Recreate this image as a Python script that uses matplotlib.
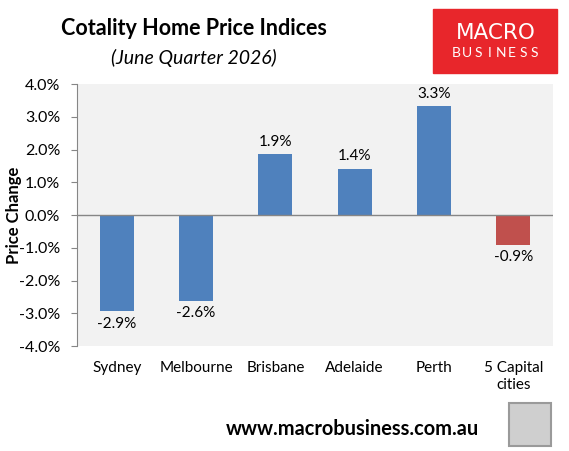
import numpy as np
import matplotlib.pyplot as plt
from matplotlib.patches import Rectangle

plt.rcParams['font.family'] = ['Lato', 'DejaVu Sans']

cities = ['Sydney', 'Melbourne', 'Brisbane', 'Adelaide', 'Perth', '5 Capital\ncities']
changes = [-2.93, -2.62, 1.86, 1.42, 3.32, -0.91]
colours = ['#4f81bd'] * 5 + ['#c0504d']
yticks = np.arange(-4, 5, 1)

fig = plt.figure(figsize=(5.69, 4.51), dpi=100)
ax = fig.add_axes([0.1353, 0.2328, 0.8367, 0.5809])
ax.set_facecolor('#f2f2f2')

x = np.arange(len(cities))
ax.bar(x, changes, width=0.43, color=colours, zorder=2)
ax.axhline(0, color='#868686', lw=1, zorder=3)

# value labels above/below bars
for xi, v in zip(x, changes):
    if v >= 0:
        ax.text(xi, v + 0.17, f'{v:.1f}%', ha='center', va='bottom', fontsize=11)
    else:
        ax.text(xi, v - 0.17, f'{v:.1f}%', ha='center', va='top', fontsize=11)

ax.set_xlim(-0.5, len(cities) - 0.5)
ax.set_ylim(-4, 4)
ax.set_yticks(yticks)
ax.set_yticklabels([f'{t:.1f}%' for t in yticks], fontsize=11.5)
ax.set_xticks(x)
ax.set_xticklabels(cities, fontsize=11, linespacing=1.25)
ax.tick_params(axis='x', length=0, pad=11)
ax.tick_params(axis='y', length=4, color='#868686', pad=8)
for s in ['top', 'right', 'bottom']:
    ax.spines[s].set_visible(False)
ax.spines['left'].set_color('#868686')
ax.set_ylabel('Price Change', fontsize=12, fontweight='bold', va='center')
ax.yaxis.set_label_coords(-0.133, 0.5)

fig.text(0.34, 0.937, 'Cotality Home Price Indices', ha='center', va='center',
         fontsize=15.5, fontweight='bold')
fig.text(0.34, 0.872, '(June Quarter 2026)', ha='center', va='center',
         fontsize=14, style='italic')

# logo box
fig.patches.append(Rectangle((433 / 569, 1 - 73 / 451), 124 / 569, 64 / 451,
                             transform=fig.transFigure, color='#e8262b'))
fig.text(495.5 / 569, 1 - 33 / 451, 'MACRO', ha='center', va='center',
         fontsize=15.5, color='white', family='DejaVu Sans')
for i, ch in enumerate('BUSINESS'):
    fig.text((456 + i * 11.2) / 569, 1 - 53 / 451, ch, ha='center', va='center',
             fontsize=10, color='white')

fig.text(352 / 569, 1 - 429 / 451, 'www.macrobusiness.com.au', ha='center',
         va='center', fontsize=14.4, fontweight='bold')
fig.patches.append(Rectangle((509 / 569, 1 - 446 / 451), 42 / 569, 43 / 451,
                             transform=fig.transFigure, facecolor='#cfcfcf',
                             edgecolor='#9a9a9a', lw=1.5))

fig.savefig('out.png', dpi=100)
